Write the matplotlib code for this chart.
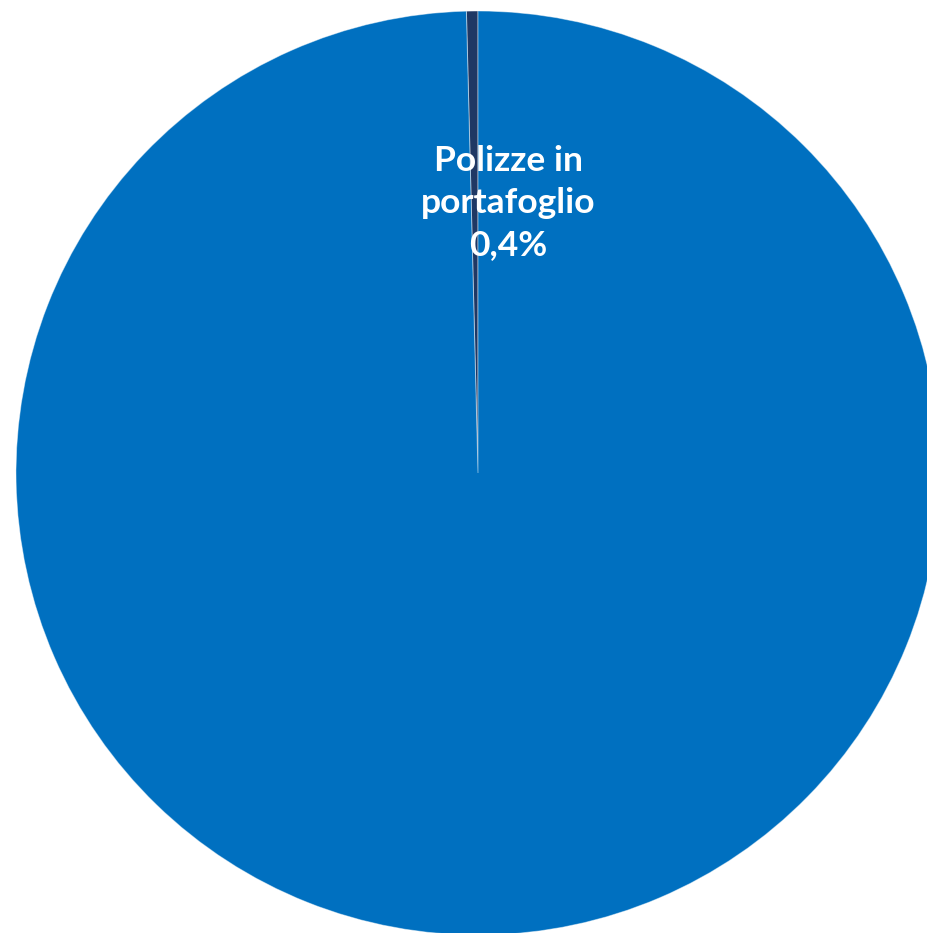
import matplotlib
matplotlib.use("Agg")
import matplotlib.pyplot as plt

categories = ["Polizze in portafoglio", "Altro"]
values = [0.4, 99.6]
colors = ["#1F3864", "#0070C0"]
label_text = "Polizze in\nportafoglio\n0,4%"

W, H = 927, 933
fig = plt.figure(figsize=(W / 100, H / 100), dpi=100)
cx, cy, r = 478, 473, 462
ax = fig.add_axes([(cx - r) / W, (H - cy - r) / H, 2 * r / W, 2 * r / H])
ax.pie(values, colors=colors, startangle=90, counterclock=True, radius=1,
       wedgeprops=dict(edgecolor=(1, 1, 1, 0.45), linewidth=0.7))
ax.set_xlim(-1, 1)
ax.set_ylim(-1, 1)
ax.set_aspect("equal")
ax.axis("off")

ax.text((508 - cx) / r, (cy - 203) / r, label_text, ha="center", va="center",
        multialignment="center", color="white", fontsize=25.5, fontweight="bold",
        family="Lato", linespacing=1.4)

fig.savefig("out.png", dpi=100)
